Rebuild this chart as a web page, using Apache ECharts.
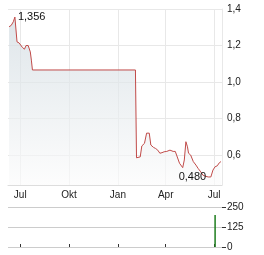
<!DOCTYPE html>
<html><head><meta charset="utf-8">
<script src="https://cdn.jsdelivr.net/npm/echarts@6/dist/echarts.min.js"></script>
<style>html,body{margin:0;padding:0;background:#fff}#c{width:264px;height:255px}</style>
</head><body><div id="c"></div>
<script>
const dates = ['2024-06-10','2024-06-14','2024-06-18','2024-06-21','2024-06-23','2024-06-25','2024-06-29','2024-07-05','2024-07-09','2024-07-12','2024-07-16','2024-07-20','2024-07-22','2024-07-24','2025-02-03','2025-02-05','2025-02-12','2025-02-15','2025-02-20','2025-02-24','2025-03-01','2025-03-04','2025-03-09','2025-03-13','2025-03-17','2025-03-21','2025-03-25','2025-03-29','2025-04-03','2025-04-09','2025-04-15','2025-04-19','2025-04-22','2025-04-27','2025-05-03','2025-05-06','2025-05-09','2025-05-12','2025-05-14','2025-05-18','2025-05-23','2025-05-28','2025-06-01','2025-06-06','2025-06-10','2025-06-14','2025-06-20','2025-06-25','2025-06-29','2025-07-03','2025-07-07','2025-07-11','2025-07-14'];
const prices = [1.303,1.31,1.33,1.356,1.356,1.22,1.214,1.19,1.18,1.20,1.20,1.165,1.12,1.066,1.066,0.585,0.59,0.65,0.664,0.72,0.72,0.655,0.642,0.636,0.627,0.61,0.613,0.618,0.62,0.627,0.62,0.62,0.61,0.555,0.531,0.573,0.673,0.645,0.61,0.60,0.564,0.545,0.527,0.508,0.49,0.485,0.48,0.48,0.518,0.536,0.541,0.558,0.564];
const volDates = ['2025-07-03'];
const volumes = [200];
const monthTicks = ['2024-07-01','2024-10-01','2025-01-01','2025-04-01','2025-07-01'];
const monthLabels = ['Jul','Okt','Jan','Apr','Jul'];
const priceTicks = [0.6,0.8,1.0,1.2,1.4];
const volTicks = [0,125,250];
const xRange = ['2024-06-08','2025-07-16'];
const yRange = [0.436,1.4];

function ts(s){const p=s.split('-').map(Number);return Date.UTC(p[0],p[1]-1,p[2]);}
const monthTs = monthTicks.map(ts);
const fmt = v => String(v).replace('.',',');
let maxI=0,minI=0;
prices.forEach((v,i)=>{if(v>prices[maxI])maxI=i;if(v<prices[minI])minI=i;});
const font = {fontFamily:'Liberation Sans, Arial, sans-serif',fontSize:10,color:'#222'};
const priceData = dates.map((d,i)=>{
  const item={value:[ts(d),prices[i]]};
  if(i===maxI) item.label={show:true,position:'right',distance:3,formatter:fmt(prices[i].toFixed(3)),...font,fontSize:11,color:'#111'};
  if(i===minI) item.label={show:true,position:'left',distance:2,formatter:fmt(prices[i].toFixed(3)),...font,fontSize:11,color:'#111'};
  return item;
});
const chart = echarts.init(document.getElementById('c'),null,{renderer:'canvas'});
chart.setOption({
  animation:false,
  grid:[{left:8,right:42,top:9,bottom:70},{left:8,right:42,top:207,bottom:8}],
  xAxis:[{
    type:'value',gridIndex:0,min:ts(xRange[0]),max:ts(xRange[1]),
    axisLine:{show:true,lineStyle:{color:'#ddd'}},
    axisTick:{show:false,customValues:monthTs},
    axisLabel:{customValues:monthTs,margin:5,...font,formatter:v=>monthLabels[monthTs.indexOf(v)]||''},
    splitLine:{show:true,lineStyle:{color:'#e8e8e8'}}
  },{
    type:'value',gridIndex:1,position:'top',min:ts(xRange[0]),max:ts(xRange[1]),
    axisLine:{show:false},
    axisTick:{show:true,customValues:monthTs,length:3,lineStyle:{color:'#333'}},
    axisLabel:{show:false,customValues:monthTs},
    splitLine:{show:false}
  }],
  yAxis:[{
    type:'value',gridIndex:0,position:'right',min:yRange[0],max:yRange[1],
    axisLine:{show:true,lineStyle:{color:'#e8e8e8'}},
    axisTick:{show:false,customValues:priceTicks},
    axisLabel:{customValues:priceTicks,margin:5,...font,formatter:v=>fmt(v.toFixed(1))},
    splitLine:{show:true,lineStyle:{color:'#e8e8e8'}}
  },{
    type:'value',gridIndex:1,position:'right',min:volTicks[0],max:volTicks[2],interval:volTicks[1],
    axisLine:{show:false},
    axisTick:{show:true,length:4,lineStyle:{color:'#333'}},
    axisLabel:{margin:5,...font},
    splitLine:{show:true,lineStyle:{color:'#ccc'}}
  }],
  series:[{
    type:'line',xAxisIndex:0,yAxisIndex:0,data:priceData,symbol:'circle',symbolSize:0,showSymbol:true,showAllSymbol:true,
    lineStyle:{color:'#c04a48',width:1},itemStyle:{color:'#c04a48'},
    areaStyle:{color:new echarts.graphic.LinearGradient(0,0,0,1,[{offset:0,color:'#d0dae0'},{offset:1,color:'#fbfbfb'}])}
  },{
    type:'bar',xAxisIndex:1,yAxisIndex:1,barWidth:1.5,
    data:volDates.map((d,i)=>[ts(d),volumes[i]]),
    itemStyle:{color:'#1e7d1e'}
  }]
});
</script></body></html>
